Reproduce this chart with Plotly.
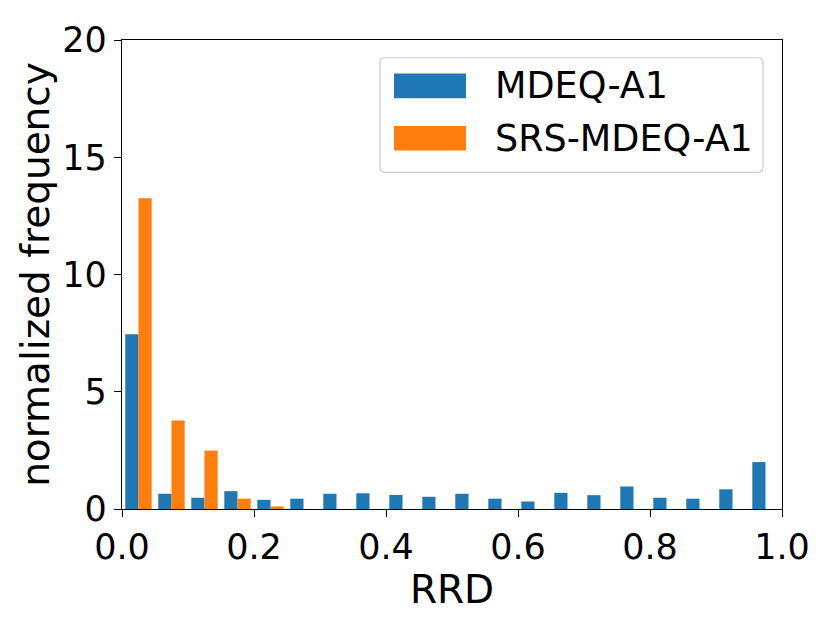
import plotly.graph_objects as go

# histogram of RRD, 20 bins on [0, 1], density normalised
bin_centers = [0.025, 0.075, 0.125, 0.175, 0.225, 0.275, 0.325, 0.375, 0.425, 0.475,
               0.525, 0.575, 0.625, 0.675, 0.725, 0.775, 0.825, 0.875, 0.925, 0.975]
mdeq = [7.45, 0.65, 0.48, 0.76, 0.39, 0.44, 0.65, 0.67, 0.60, 0.52,
        0.65, 0.44, 0.32, 0.69, 0.59, 0.96, 0.48, 0.44, 0.84, 2.00]
srs_mdeq = [13.25, 3.77, 2.49, 0.44, 0.11, 0, 0, 0, 0, 0,
            0, 0, 0, 0, 0, 0, 0, 0, 0, 0]
names = ["MDEQ-A1", "SRS-MDEQ-A1"]
colors = ["#1f77b4", "#ff7f0e"]

W, H = 830, 623
OFF = 8  # page body margin of the html file
L, R, T, B = 122, 782, 34, 509
FONT = "DejaVu Sans"

fig = go.Figure()
for name, vals, c in zip(names, [mdeq, srs_mdeq], colors):
    fig.add_trace(go.Bar(x=bin_centers, y=vals, name=name, marker_color=c,
                         marker_line_width=0, showlegend=False))

def px(x, y):
    return (x - L) / (R - L), (B - y) / (B - T)

# legend drawn by hand so the handles look like matplotlib's
x0, y0 = px(380, 168)
x1, y1 = px(763, 52)
rx, ry = 5 / (R - L), 5 / (B - T)
path = (f"M {x0+rx},{y0} L {x1-rx},{y0} Q {x1},{y0} {x1},{y0+ry} "
        f"L {x1},{y1-ry} Q {x1},{y1} {x1-rx},{y1} L {x0+rx},{y1} "
        f"Q {x0},{y1} {x0},{y1-ry} L {x0},{y0+ry} Q {x0},{y0} {x0+rx},{y0} Z")
shapes = [dict(type="path", path=path, xref="paper", yref="paper",
               line=dict(color="#cccccc", width=1.2), fillcolor="rgba(255,255,255,0.8)")]
annotations = []
for i, (name, c) in enumerate(zip(names, colors)):
    top = 68 + i * 53
    hx0, hy0 = px(394, top + 25)
    hx1, hy1 = px(466, top)
    shapes.append(dict(type="rect", xref="paper", yref="paper", x0=hx0, x1=hx1,
                       y0=hy0, y1=hy1, fillcolor=c, line_width=0))
    tx, ty = px(493, top + 12.5)
    annotations.append(dict(text=name, x=tx, y=ty, xref="paper", yref="paper",
                            xanchor="left", yanchor="middle", showarrow=False,
                            font=dict(size=36.5, color="black", family=FONT)))

axis_style = dict(showline=True, linecolor="black", linewidth=1.3, mirror=True,
                  ticks="outside", ticklen=7, tickwidth=1.3, tickcolor="black",
                  showgrid=False, zeroline=False,
                  tickfont=dict(size=35, color="black", family=FONT))

fig.update_layout(
    width=W, height=H,
    margin=dict(l=L - OFF, r=W - R + OFF, t=T - OFF, b=H - B + OFF),
    paper_bgcolor="white", plot_bgcolor="white",
    barmode="group", bargap=0.2, bargroupgap=0,
    font=dict(family=FONT, size=35, color="black"),
    xaxis=dict(range=[0, 1], tickvals=[0, 0.2, 0.4, 0.6, 0.8, 1.0], tickformat=".1f",
               title=dict(text="RRD", font=dict(size=39), standoff=0), **axis_style),
    yaxis=dict(range=[0, 20], tickvals=[0, 5, 10, 15, 20],
               title=dict(text="normalized frequency", font=dict(size=39), standoff=0),
               **axis_style),
    shapes=shapes, annotations=annotations,
)

fig.write_html("out.html")
